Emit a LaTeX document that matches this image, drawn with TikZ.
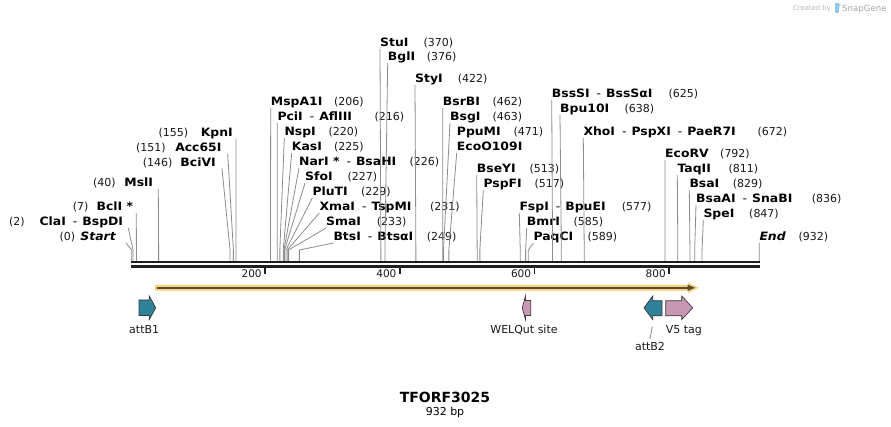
\documentclass[tikz,border=0pt]{standalone}
\usepackage{fontspec}
\setmainfont{DejaVu Sans}
\newfontfamily\labbf{DejaVu Sans}[FakeStretch=1.08]
\usetikzlibrary{calc}
\definecolor{cutgray}{HTML}{8C8C8C}
\definecolor{bbone}{HTML}{1E1E1E}
\definecolor{featteal}{HTML}{2F8299}
\definecolor{featpink}{HTML}{C897B4}
\definecolor{featline}{HTML}{3A3A3A}
\definecolor{orfhalo}{HTML}{FAD07A}
\definecolor{orfdark}{HTML}{5A4A32}
\definecolor{wmgray}{HTML}{B8B8B8}
\definecolor{wmblue}{HTML}{8CCBEB}
\newcommand\mksite[2]{\coordinate (s#1) at ({131.7+0.6734*#2},261); \coordinate (b#1) at ({131.7+0.6734*#2},250);}
\newcommand\rlab[6]{\node[nm,anchor=base west] (n#1) at (#2,#3) {#4}; \node[num,anchor=base west] (m#1) at (#5,#3) {#6};}
\newcommand\rcon[1]{\draw[cut] ([yshift=-2pt]n#1.base west) -- (b#1) -- (s#1);}
\newcommand\llab[6]{\node[nm,anchor=base east] (n#1) at (#2,#4) {#3}; \node[num,anchor=base west] (m#1) at (#5,#4) {#6};}
\newcommand\lcon[2]{\draw[cut] ([xshift=#2pt,yshift=-2pt]n#1.base east) -- (b#1) -- (s#1);}
\newcommand\hy{\hspace{7pt}{\mdseries -}\hspace{5pt}}
\newcommand\mktick[1]{\draw[tickmark] ({131.7+0.6734*#1-1.3},267.3) -- ({131.7+0.6734*#1-1.3},274); \node[scl,anchor=base east] (t#1) at ({131.7+0.6734*#1-4.5},278) {#1};}
\begin{document}
\begin{tikzpicture}[x=1pt,y=-1pt,
  nm/.style={font=\labbf\bfseries\fontsize{11.5}{13}\selectfont, inner sep=0pt, text=black},
  num/.style={font=\fontsize{11}{13}\selectfont, inner sep=0pt, text=black!90},
  scl/.style={font=\fontsize{10.5}{12}\selectfont, inner sep=0pt, text=black!90},
  flab/.style={font=\fontsize{11}{13}\selectfont, inner sep=0pt, text=black!90},
  cut/.style={draw=cutgray, line width=0.8pt},
  tickmark/.style={draw=bbone, line width=1.8pt},
  feat/.style={draw=featline, line width=0.7pt, line join=miter}]
\useasboundingbox (0,0) rectangle (891,427);
\fill[white] (0,0) rectangle (891,427);
% sites
\mksite{Start}{0} \mksite{Cla}{2} \mksite{Bcl}{7} \mksite{Msl}{40}
\mksite{Bci}{146} \mksite{Acc}{151} \mksite{Kpn}{155}
\mksite{MspA}{206} \mksite{Pci}{216} \mksite{Nsp}{220} \mksite{Kas}{225}
\mksite{Nar}{226} \mksite{Sfo}{227} \mksite{Plu}{229} \mksite{Xma}{231}
\mksite{Sma}{233} \mksite{Bts}{249} \mksite{Stu}{370} \mksite{Bgl}{376}
\mksite{Sty}{422} \mksite{BsrB}{462} \mksite{Bsg}{463} \mksite{Eco}{471}
\mksite{BseY}{513} \mksite{PspF}{517} \mksite{Fsp}{577} \mksite{Bmr}{585}
\mksite{Paq}{589} \mksite{BssS}{625} \mksite{Bpu}{638} \mksite{Xho}{672}
\mksite{EcoRV}{792} \mksite{Taq}{811} \mksite{Bsa}{829} \mksite{BsaA}{836}
\mksite{Spe}{847} \mksite{End}{932}
% right-side labels
\rlab{Stu}{380}{47}{StuI}{423.3}{(370)}
\rlab{Bgl}{387.7}{61}{BglI}{426.7}{(376)}
\rlab{Sty}{415}{83}{StyI}{457.7}{(422)}
\rlab{MspA}{270.7}{106}{MspA1I}{334}{(206)}
\rlab{Pci}{277.3}{121}{PciI\hy AflIII}{374.3}{(216)}
\rlab{Nsp}{284.3}{136}{NspI}{328.3}{(220)}
\rlab{Kas}{291.7}{151}{KasI}{334}{(225)}
\rlab{Nar}{299}{166}{NarI *\hy BsaHI}{409.3}{(226)}
\rlab{Sfo}{305}{181}{SfoI}{347.3}{(227)}
\rlab{Plu}{312.3}{196}{PluTI}{361}{(229)}
\rlab{Xma}{319.3}{211}{XmaI\hy TspMI}{430}{(231)}
\rlab{Sma}{326}{226}{SmaI}{376.7}{(233)}
\rlab{Bts}{333.3}{241}{BtsI\hy BtsαI}{426.7}{(249)}
\rlab{BsrB}{442.7}{106}{BsrBI}{492.3}{(462)}
\rlab{Bsg}{450}{121}{BsgI}{492.3}{(463)}
\rlab{Ppu}{456.7}{136}{PpuMI}{513.3}{(471)}
\node[nm,anchor=base west] (nEco) at (456.7,151) {EcoO109I};
\rlab{BseY}{476.7}{173}{BseYI}{529.3}{(513)}
\rlab{PspF}{483.3}{188}{PspFI}{534.3}{(517)}
\rlab{Fsp}{519.3}{211}{FspI\hy BpuEI}{621.7}{(577)}
\rlab{Bmr}{526.7}{226}{BmrI}{573.3}{(585)}
\rlab{Paq}{533.3}{241}{PaqCI}{587.3}{(589)}
\rlab{BssS}{551.7}{98}{BssSI\hy BssSαI}{668.3}{(625)}
\rlab{Bpu}{560}{113}{Bpu10I}{624.3}{(638)}
\rlab{Xho}{583.3}{136}{XhoI\hy PspXI\hy PaeR7I}{757.3}{(672)}
\rlab{EcoRV}{665}{158}{EcoRV}{720}{(792)}
\rlab{Taq}{677.3}{173}{TaqII}{728.3}{(811)}
\rlab{Bsa}{689.3}{188}{BsaI}{732.7}{(829)}
\rlab{BsaA}{696}{203}{BsaAI\hy SnaBI}{811.7}{(836)}
\rlab{Spe}{703.3}{218}{SpeI}{749}{(847)}
\rlab{End}{759.3}{241}{\itshape End}{798.3}{(932)}
% left-side labels
\llab{Kpn}{233}{KpnI}{136.7}{158.3}{(155)}
\llab{Acc}{221.7}{Acc65I}{151.5}{136}{(151)}
\llab{Bci}{216}{BciVI}{166.5}{142.7}{(146)}
\llab{Msl}{153.3}{MslI}{187}{93}{(40)}
\llab{Bcl}{133.3}{BclI *}{211}{72.7}{(7)}
\llab{Cla}{123.3}{ClaI\hy BspDI}{226}{9}{(2)}
\llab{Start}{116}{\itshape Start}{241}{59.5}{(0)}
% connectors
\foreach \i in {Stu,Bgl,Sty,MspA,Pci,Nsp,Kas,Nar,Sfo,Plu,Xma,Sma,Bts,BsrB,Bsg,Eco,BseY,PspF,Fsp,Bmr,Paq,BssS,Bpu,Xho,EcoRV,Taq,Bsa,BsaA,Spe,End}{\rcon{\i}}
\lcon{Kpn}{3}
\lcon{Acc}{6}
\lcon{Bci}{6}
\lcon{Msl}{5}
\lcon{Bcl}{3}
\lcon{Cla}{5}
\lcon{Start}{10}
% backbone
\draw[bbone, line width=2.7pt] (131,262) -- (760,262);
\draw[bbone, line width=2.5pt] (131,266.3) -- (760,266.3);
% scale
\mktick{200} \mktick{400} \mktick{600} \mktick{800}
% ORF
\fill[orfhalo] (155,285) -- (688,285) -- (688,282.6) -- (698.5,287.8) -- (688,293) -- (688,290.6) -- (155,290.6) -- cycle;
\draw[orfdark, line width=1.8pt] (157,287.8) -- (689,287.8);
\fill[orfdark] (687.5,284.6) -- (695,287.8) -- (687.5,291) -- cycle;
% features
\draw[feat, fill=featteal] (139,300) -- (149.3,300) -- (149.3,296) -- (155.7,307.8) -- (149.3,319.6) -- (149.3,315.6) -- (139,315.6) -- cycle;
\draw[feat, fill=featpink] (530.7,300.5) -- (525.5,300.5) -- (525.5,296) -- (522.2,307.8) -- (525.5,319.6) -- (525.5,315.6) -- (530.7,315.6) -- cycle;
\draw[feat, fill=featteal] (662,300.7) -- (652.7,300.7) -- (652.7,296) -- (644,307.8) -- (652.7,319.6) -- (652.7,315.8) -- (662,315.8) -- cycle;
\draw[feat, fill=featpink] (665.7,300.7) -- (681.7,300.7) -- (681.7,296) -- (692.7,307.8) -- (681.7,319.6) -- (681.7,315.8) -- (665.7,315.8) -- cycle;
\node[flab,anchor=base west] (lB1) at (129,334) {attB1};
\node[flab,anchor=base] (lWEL) at (524,333.5) {WELQut site};
\node[flab,anchor=base] (lB2) at (650,350) {attB2};
\node[flab,anchor=base west] (lV5) at (665.7,333.5) {V5 tag};
\coordinate (fB2) at (652.3,326.5);
\draw[cut] (fB2) -- ([yshift=2.5pt]lB2.north);
% title
\node[font=\bfseries\fontsize{14}{16}\selectfont, inner sep=0pt, anchor=base] (title) at (445,402) {TFORF3025};
\node[font=\fontsize{11}{13}\selectfont, inner sep=0pt, anchor=base] (len) at (445,415) {932 bp};
% watermark
\node[font=\fontsize{6.8}{8}\selectfont, inner sep=0pt, anchor=base west, text=wmgray] (wm1) at (793,11) {Created by};
\fill[wmblue] (834.5,3) rectangle (838.5,13);
\fill[wmblue!70] (838.5,3) -- (841,5.5) -- (838.5,8) -- cycle;
\node[font=\fontsize{8.6}{10}\selectfont, inner sep=0pt, anchor=base west, text=wmgray!90!black] (wm2) at (842,11.5) {SnapGene};
\end{tikzpicture}
\end{document}
